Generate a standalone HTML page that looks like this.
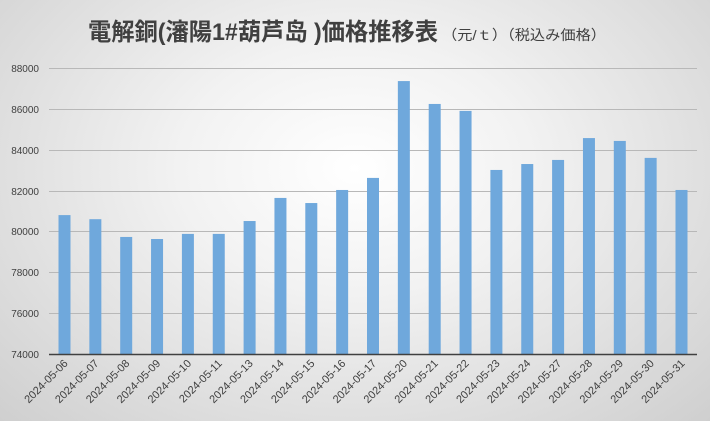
<!DOCTYPE html>
<html><head><meta charset="utf-8"><style>
html,body{margin:0;padding:0}
body{width:710px;height:421px;overflow:hidden;background:radial-gradient(ellipse at 50% 40%,#ffffff 0%,#f2f2f2 35%,#cfcfcf 100%);font-family:"Liberation Sans","Noto Sans CJK JP",sans-serif}
</style></head><body>
<svg width="710" height="421" xmlns="http://www.w3.org/2000/svg" style="position:absolute;left:0;top:0">
<text x="88" y="40" font-size="24" font-weight="bold" fill="#404040" textLength="350" lengthAdjust="spacingAndGlyphs" font-family="'Liberation Sans','Noto Sans CJK JP',sans-serif">電解銅(瀋陽1#葫芦岛 )価格推移表</text>
<text x="442" y="40" font-size="14" fill="#404040" textLength="164" lengthAdjust="spacingAndGlyphs" font-family="'Liberation Sans','Noto Sans CJK JP',sans-serif">（元/ｔ）（税込み価格）</text>
<g stroke="#b8b8b8" stroke-width="1">
<line x1="49" x2="697" y1="68.5" y2="68.5"/><line x1="49" x2="697" y1="109.5" y2="109.5"/><line x1="49" x2="697" y1="150.5" y2="150.5"/><line x1="49" x2="697" y1="191.5" y2="191.5"/><line x1="49" x2="697" y1="231.5" y2="231.5"/><line x1="49" x2="697" y1="272.5" y2="272.5"/><line x1="49" x2="697" y1="313.5" y2="313.5"/>
</g>
<g font-size="10" fill="#404040" text-anchor="end">
<text x="39" y="72">88000</text><text x="39" y="113">86000</text><text x="39" y="154">84000</text><text x="39" y="195">82000</text><text x="39" y="235">80000</text><text x="39" y="276">78000</text><text x="39" y="317">76000</text><text x="39" y="358">74000</text>
</g>
<g id="bars" fill="#6fa8dc"></g>
<line x1="49" x2="697" y1="354.5" y2="354.5" stroke="#404040" stroke-width="1.5"/>
<g id="labels" font-size="11" fill="#404040" text-anchor="end"></g>
</svg>
<script>
var d=[["2024-05-06",80800],["2024-05-07",80600],["2024-05-08",79730],["2024-05-09",79630],["2024-05-10",79880],["2024-05-11",79880],["2024-05-13",80510],["2024-05-14",81640],["2024-05-15",81390],["2024-05-16",82030],["2024-05-17",82620],["2024-05-20",87360],["2024-05-21",86240],["2024-05-22",85900],["2024-05-23",83010],["2024-05-24",83300],["2024-05-27",83500],["2024-05-28",84570],["2024-05-29",84430],["2024-05-30",83600],["2024-05-31",82030]];
var ns="http://www.w3.org/2000/svg",b=document.getElementById("bars"),l=document.getElementById("labels");
d.forEach(function(e,i){var c=64.5+i*30.85;var y=68+(88000-e[1])/2000*40.86;
var r=document.createElementNS(ns,"rect");r.setAttribute("x",c-6);r.setAttribute("y",y);r.setAttribute("width",12);r.setAttribute("height",354-y);b.appendChild(r);
var t=document.createElementNS(ns,"text");t.setAttribute("transform","translate("+(c+4)+",364) rotate(-45)");t.textContent=e[0];l.appendChild(t);});
</script>
</body></html>
